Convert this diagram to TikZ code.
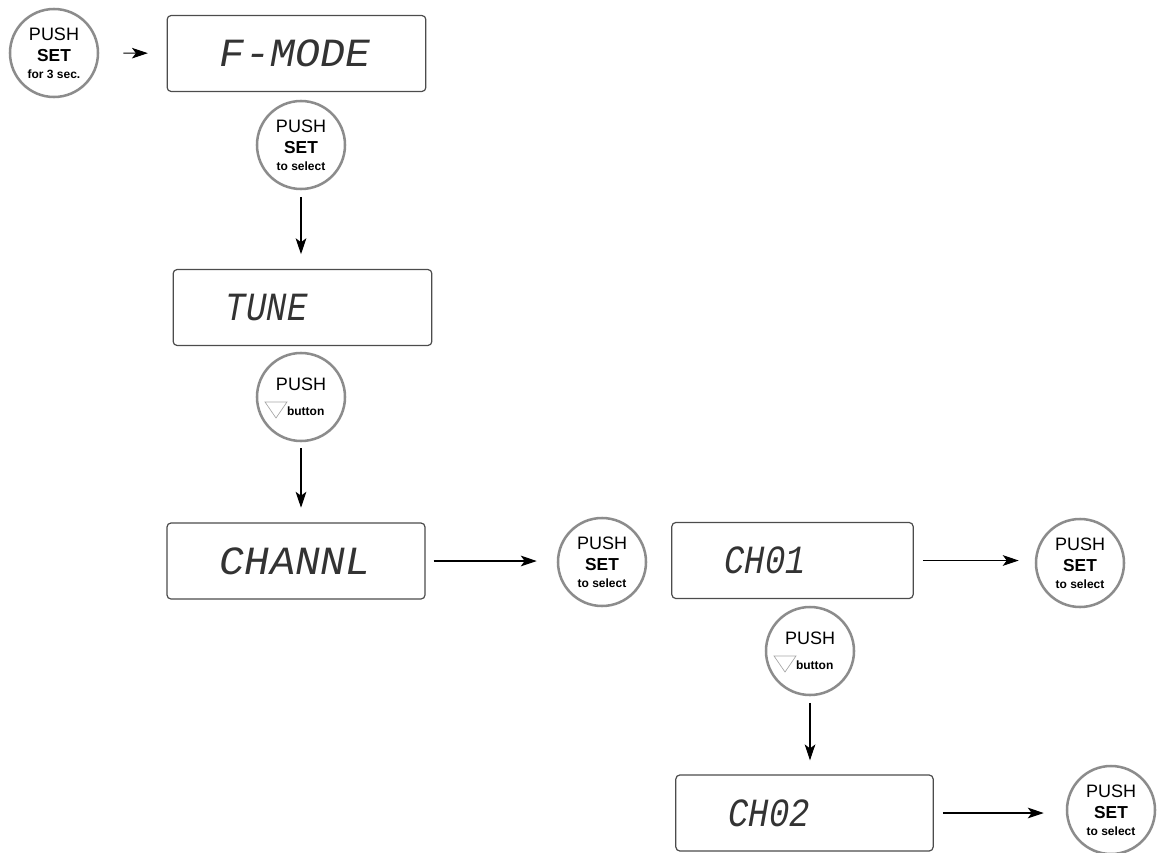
\documentclass[tikz,border=0pt]{standalone}
\usepackage{fontspec}
\setmainfont{Liberation Sans}
\newfontfamily\lcdfont[FakeSlant=0.18,FakeStretch=0.85]{Liberation Mono}
\newfontfamily\lcdwidefont[FakeSlant=0.18,FakeStretch=1.05]{Liberation Mono}
\usetikzlibrary{arrows.meta}
\newcommand{\pushset}[1]{{\fontsize{13.5}{16}\selectfont PUSH}\\[3.6pt]{\fontsize{13}{16}\selectfont\bfseries SET}\\{\bfseries #1}}
\newcommand{\pushbtn}{{\fontsize{13.5}{16}\selectfont PUSH}\\[6.3pt]\hspace*{7pt}{\bfseries button}}

\begin{document}
\begin{tikzpicture}[x=0.75pt, y=-0.75pt,
  main/.style = {draw=black!45, circle, line width=1.9pt, minimum size=66pt, inner sep=0pt, align=center, font=\fontsize{9}{12.4}\selectfont},
  disp/.style = {draw=black!70, line width=0.9pt, rounded corners=3pt, minimum height=57pt, inner xsep=38pt, text width=#1, align=left, text=black!80, font=\lcdfont\fontsize{30}{30}\selectfont},
  wide/.style = {font=\lcdwidefont\fontsize{30}{30}\selectfont},
  flow/.style = {-{Stealth[length=12pt,width=8pt,inset=3pt]}, line width=0.8pt},
  tri/.style = {draw=black!35, line width=0.5pt}]
\useasboundingbox (0,0) rectangle (1157,853);
\node[main] (1) at (54,53) {\pushset{for 3 sec.}};
\node[disp=118pt, wide] (2) at (296.5,53.5) {F-MODE};
\node[main] (3) at (301,145) {\pushset{to select}};
\node[disp=118pt] (4) at (302.5,307.5) {TUNE};
\node[main] (5) at (301,397) {\pushbtn};
\node[disp=117.5pt, wide] (6) at (296,561) {CHANNL};
\node[main] (7) at (602,562) {\pushset{to select}};
\node[disp=105pt] (8) at (792.5,560.5) {CH01};
\node[main] (9) at (1080,563) {\pushset{to select}};
\node[main] (10) at (810,651) {\pushbtn};
\node[disp=117pt] (11) at (804.5,813) {CH02};
\node[main] (12) at (1111,810) {\pushset{to select}};
\draw[tri] ([shift={(-36,5)}]5.center) -- ++(22,0) -- ++(-11,16) -- cycle;
\draw[tri] ([shift={(-36,5)}]10.center) -- ++(22,0) -- ++(-11,16) -- cycle;
\draw[flow, shorten <=18pt, shorten >=14pt] (1) -- (2);
\draw[flow, shorten <=5pt, shorten >=11pt] (3) -- (3 |- 4.north);
\draw[flow, shorten <=4.5pt, shorten >=11pt] (5) -- (5 |- 6.north);
\draw[flow, shorten <=6pt, shorten >=15pt] (6.east) -- (6.east -| 7.west);
\draw[flow, shorten <=6.75pt, shorten >=12pt] (8.east) -- (8.east -| 9.west);
\draw[flow, shorten <=5pt, shorten >=10.5pt] (10) -- (10 |- 11.north);
\draw[flow, shorten <=6.75pt, shorten >=16.5pt] (11.east) -- (11.east -| 12.west);
\end{tikzpicture}
\end{document}
